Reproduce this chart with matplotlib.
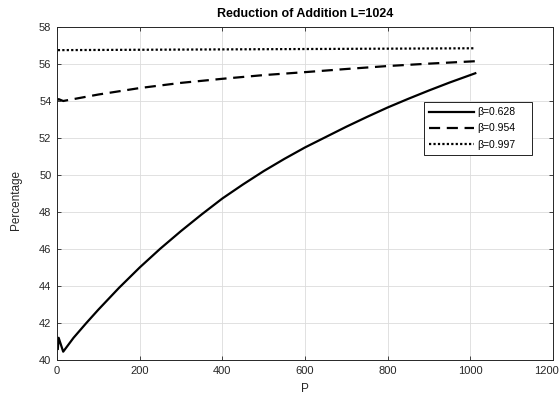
import matplotlib
matplotlib.use("Agg")
import matplotlib.pyplot as plt
import matplotlib.transforms as mtransforms

plt.rcParams['font.family'] = ['Liberation Sans', 'DejaVu Sans']

p_solid = [2, 4, 15, 40, 71, 100, 150, 200, 250, 300, 350, 400, 450, 500, 550, 600,
           650, 700, 750, 800, 850, 900, 950, 1012]
v_solid = [40.6, 41.2, 40.45, 41.2, 42.0, 42.72, 43.9, 45.0, 46.02, 46.97, 47.87, 48.73,
           49.49, 50.21, 50.87, 51.49, 52.05, 52.61, 53.14, 53.65, 54.12, 54.57, 55.0, 55.5]

p_dash = [2, 4, 15, 100, 200, 300, 400, 500, 600, 700, 800, 900, 1012]
v_dash = [54.05, 54.1, 54.0, 54.35, 54.7, 54.98, 55.2, 55.4, 55.56, 55.73, 55.89, 56.02, 56.15]

p_dot = [2, 1012]
v_dot = [56.75, 56.85]

labels = ['β=0.628', 'β=0.954', 'β=0.997']
xticks = [0, 200, 400, 600, 800, 1000, 1200]
yticks = [40, 42, 44, 46, 48, 50, 52, 54, 56, 58]

fig = plt.figure(figsize=(5.6, 3.94), dpi=100)
ax = fig.add_axes([57/560, 1-360/394, 496/560, 333/394])

ax.plot(p_solid, v_solid, color='black', lw=1.6, label=labels[0])
ax.plot(p_dash, v_dash, color='black', lw=1.6, dashes=(5, 3), label=labels[1])
ax.plot(p_dot, v_dot, color='black', lw=1.6, dashes=(1, 1), label=labels[2])

ax.set_xlim(0, 1200)
ax.set_ylim(40, 58)
ax.set_xticks(xticks)
ax.set_yticks(yticks)
ax.grid(True, color='#dcdcdc', lw=0.6)
ax.set_axisbelow(True)
ax.tick_params(direction='in', top=True, right=True, length=3, width=0.6,
               labelsize=8, colors='#262626', pad=4)
for s in ax.spines.values():
    s.set_color('#262626')
    s.set_linewidth(0.7)

# nudge the last x tick label so it stays inside the figure
last = ax.get_xticklabels()[-1]
last.set_transform(last.get_transform() +
                   mtransforms.ScaledTranslation(-7/100, 0, fig.dpi_scale_trans))

ax.set_title('Reduction of Addition L=1024', fontsize=9, fontweight='bold', pad=7)
ax.set_xlabel('P', fontsize=8.5, color='#262626', labelpad=5)
ax.set_ylabel('Percentage', fontsize=8.5, color='#262626')
ax.yaxis.set_label_coords(-0.07, 0.48)

x0 = (424 - 57) / 496
x1 = (532 - 57) / 496
ytop = (360 - 102) / 333
ybot = (360 - 153) / 333
leg = ax.legend(loc='upper left', bbox_to_anchor=(x0, ybot, x1 - x0, ytop - ybot),
                mode='expand', fontsize=7.5,
                handlelength=4.3, fancybox=False, framealpha=1, edgecolor='black',
                borderpad=0.5, labelspacing=0.6, handletextpad=0.3, borderaxespad=0)
leg.get_frame().set_linewidth(0.6)

fig.savefig('out.png', dpi=100)
